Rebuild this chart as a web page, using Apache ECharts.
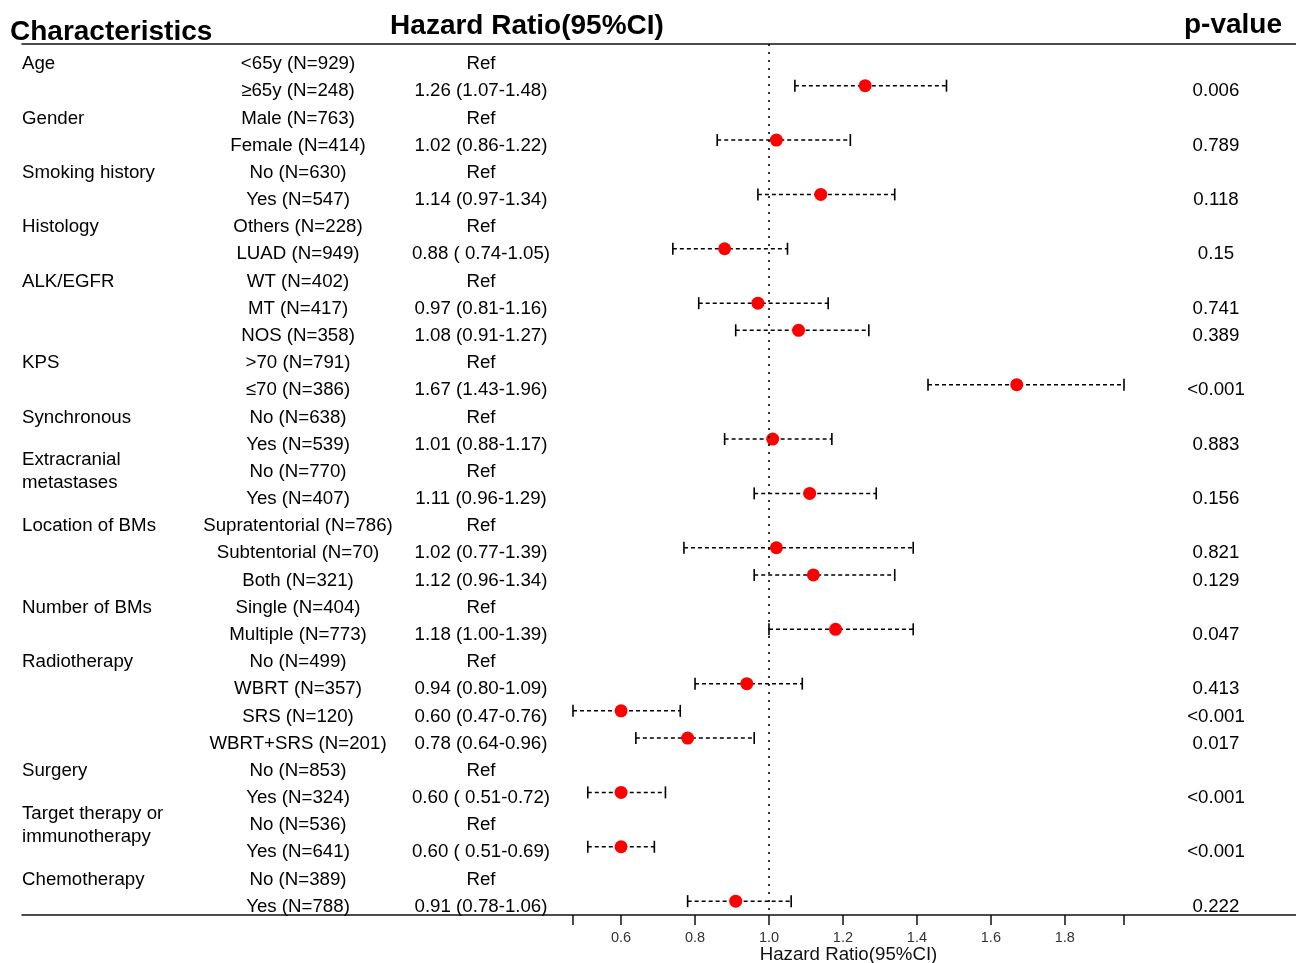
<!DOCTYPE html>
<html>
<head>
<meta charset="utf-8">
<script src="https://cdn.jsdelivr.net/npm/echarts@6/dist/echarts.min.js"></script>
<style>
html,body{margin:0;padding:0;background:#fff;}
#chart{width:1296px;height:963px;}
</style>
</head>
<body>
<div id="chart"></div>
<script>
const groups = ['Age','','Gender','','Smoking history','','Histology','','ALK/EGFR','','','KPS','','Synchronous','','Extracranial\nmetastases','','Location of BMs','','','Number of BMs','','Radiotherapy','','','','Surgery','','Target therapy or\nimmunotherapy','','Chemotherapy',''];
const subgroups = ['<65y (N=929)','≥65y (N=248)','Male (N=763)','Female (N=414)','No (N=630)','Yes (N=547)','Others (N=228)','LUAD (N=949)','WT (N=402)','MT (N=417)','NOS (N=358)','>70 (N=791)','≤70 (N=386)','No (N=638)','Yes (N=539)','No (N=770)','Yes (N=407)','Supratentorial (N=786)','Subtentorial (N=70)','Both (N=321)','Single (N=404)','Multiple (N=773)','No (N=499)','WBRT (N=357)','SRS (N=120)','WBRT+SRS (N=201)','No (N=853)','Yes (N=324)','No (N=536)','Yes (N=641)','No (N=389)','Yes (N=788)'];
const hrText = ['Ref','1.26 (1.07-1.48)','Ref','1.02 (0.86-1.22)','Ref','1.14 (0.97-1.34)','Ref','0.88 ( 0.74-1.05)','Ref','0.97 (0.81-1.16)','1.08 (0.91-1.27)','Ref','1.67 (1.43-1.96)','Ref','1.01 (0.88-1.17)','Ref','1.11 (0.96-1.29)','Ref','1.02 (0.77-1.39)','1.12 (0.96-1.34)','Ref','1.18 (1.00-1.39)','Ref','0.94 (0.80-1.09)','0.60 (0.47-0.76)','0.78 (0.64-0.96)','Ref','0.60 ( 0.51-0.72)','Ref','0.60 ( 0.51-0.69)','Ref','0.91 (0.78-1.06)'];
const pValues = ['','0.006','','0.789','','0.118','','0.15','','0.741','0.389','','<0.001','','0.883','','0.156','','0.821','0.129','','0.047','','0.413','<0.001','0.017','','<0.001','','<0.001','','0.222'];
const hr    = [null,1.26,null,1.02,null,1.14,null,0.88,null,0.97,1.08,null,1.67,null,1.01,null,1.11,null,1.02,1.12,null,1.18,null,0.94,0.60,0.78,null,0.60,null,0.60,null,0.91];
const lower = [null,1.07,null,0.86,null,0.97,null,0.74,null,0.81,0.91,null,1.43,null,0.88,null,0.96,null,0.77,0.96,null,1.00,null,0.80,0.47,0.64,null,0.51,null,0.51,null,0.78];
const upper = [null,1.48,null,1.22,null,1.34,null,1.05,null,1.16,1.27,null,1.96,null,1.17,null,1.29,null,1.39,1.34,null,1.39,null,1.09,0.76,0.96,null,0.72,null,0.69,null,1.06];
const tickValues = [0.47,0.6,0.8,1.0,1.2,1.4,1.6,1.8,1.96];
const labelValues = [0.6,0.8,1.0,1.2,1.4,1.6,1.8];

const FONT = "'Liberation Sans', Arial, Helvetica, sans-serif";
const FS = 18.7;
// column layout (text grid uses pixel-like units)
const COL = {group: 22, sub: 298, hr: 481, p: 1216};
const TEXT_DY = 5.5;

const chart = echarts.init(document.getElementById('chart'), null, {renderer: 'canvas'});

function textSeries(arr, colX, align) {
  return {
    type: 'custom',
    xAxisIndex: 1, yAxisIndex: 1,
    silent: true,
    data: arr.map((t, i) => [colX, i]),
    renderItem: function (params, api) {
      const p = api.coord([api.value(0), api.value(1)]);
      const t = arr[params.dataIndex];
      if (!t) return null;
      return {
        type: 'text',
        x: p[0], y: p[1] + TEXT_DY,
        style: {
          text: t, fill: '#000', fontSize: FS, fontFamily: FONT,
          align: align, verticalAlign: 'middle', lineHeight: 23
        }
      };
    }
  };
}

const ciData = [];
const ptData = [];
hr.forEach((v, i) => {
  if (v !== null) {
    ciData.push([lower[i], upper[i], i]);
    ptData.push([v, i]);
  }
});

const option = {
  animation: false,
  backgroundColor: '#fff',
  grid: [
    {left: 573, right: 172, top: 44, bottom: 48, outerBoundsMode: 'none', containLabel: false},
    {left: 22, right: 0, top: 44, bottom: 48, outerBoundsMode: 'none', containLabel: false}
  ],
  xAxis: [
    {
      type: 'value', gridIndex: 0, min: 0.47, max: 1.96, position: 'bottom',
      splitLine: {show: false},
      axisLine: {show: false, onZero: false},
      axisTick: {show: true, customValues: tickValues, length: 10, lineStyle: {color: '#111', width: 1.5}},
      axisLabel: {show: true, customValues: labelValues, formatter: v => v.toFixed(1),
        fontSize: 14.5, color: '#333', fontFamily: FONT, margin: 15},
      name: 'Hazard Ratio(95%CI)', nameLocation: 'middle', nameGap: 30, nameMoveOverlap: false,
      nameTextStyle: {fontSize: FS, color: '#111', fontFamily: FONT}
    },
    {
      type: 'value', gridIndex: 1, min: 22, max: 1296, position: 'bottom',
      splitLine: {show: false},
      axisLine: {show: true, onZero: false, lineStyle: {color: '#111', width: 1.5}},
      axisTick: {show: false}, axisLabel: {show: false}
    },
    {
      type: 'value', gridIndex: 1, min: 22, max: 1296, position: 'top',
      splitLine: {show: false},
      axisLine: {show: true, onZero: false, lineStyle: {color: '#111', width: 1.5}},
      axisTick: {show: false}, axisLabel: {show: false}
    }
  ],
  yAxis: [
    {type: 'value', gridIndex: 0, min: -0.533, max: 31.51, inverse: true, show: false},
    {type: 'value', gridIndex: 1, min: -0.533, max: 31.51, inverse: true, show: false}
  ],
  graphic: [
    {type: 'text', x: 10, y: 32, style: {text: 'Characteristics', fontSize: 28, fontWeight: 'bold', fontFamily: FONT, fill: '#000', align: 'left', verticalAlign: 'middle'}},
    {type: 'text', x: 527, y: 26, style: {text: 'Hazard Ratio(95%CI)', fontSize: 28, fontWeight: 'bold', fontFamily: FONT, fill: '#000', align: 'center', verticalAlign: 'middle'}},
    {type: 'text', x: 1233, y: 25, style: {text: 'p-value', fontSize: 28, fontWeight: 'bold', fontFamily: FONT, fill: '#000', align: 'center', verticalAlign: 'middle'}}
  ],
  series: [
    {
      type: 'line', xAxisIndex: 0, yAxisIndex: 0, data: [], silent: true,
      markLine: {
        silent: true, symbol: 'none', label: {show: false},
        lineStyle: {color: '#000', width: 1.6, type: [2, 6]},
        data: [{xAxis: 1.0}]
      }
    },
    {
      type: 'custom', xAxisIndex: 0, yAxisIndex: 0, silent: true,
      data: ciData,
      renderItem: function (params, api) {
        const a = api.coord([api.value(0), api.value(2)]);
        const b = api.coord([api.value(1), api.value(2)]);
        const h = 6;
        return {
          type: 'group',
          children: [
            {type: 'line', shape: {x1: a[0], y1: a[1], x2: b[0], y2: b[1]},
              style: {stroke: '#000', lineWidth: 1.5, lineDash: [4, 3]}},
            {type: 'line', shape: {x1: a[0], y1: a[1] - h, x2: a[0], y2: a[1] + h},
              style: {stroke: '#000', lineWidth: 1.6}},
            {type: 'line', shape: {x1: b[0], y1: b[1] - h, x2: b[0], y2: b[1] + h},
              style: {stroke: '#000', lineWidth: 1.6}}
          ]
        };
      }
    },
    {
      type: 'scatter', xAxisIndex: 0, yAxisIndex: 0, silent: true,
      data: ptData, symbol: 'circle', symbolSize: 13,
      itemStyle: {color: '#ff0000', opacity: 1}
    },
    textSeries(groups, COL.group, 'left'),
    textSeries(subgroups, COL.sub, 'center'),
    textSeries(hrText, COL.hr, 'center'),
    textSeries(pValues, COL.p, 'center')
  ]
};
chart.setOption(option);
</script>
</body>
</html>
